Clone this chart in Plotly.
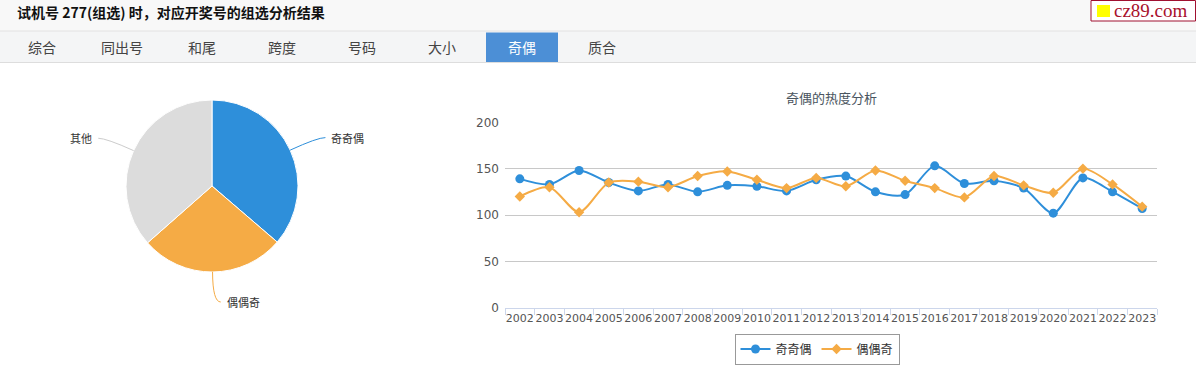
import math
import plotly.graph_objects as go

# ---------------- data ----------------
years = [str(y) for y in range(2002, 2024)]
series_a_name = "奇奇偶"
series_b_name = "偶偶奇"
series_a = [139, 133, 148, 135, 126, 133, 125, 132, 131, 126, 138, 142, 125, 122,
            153, 134, 137, 129, 102, 140, 125, 107]
series_b = [120, 130, 103, 135, 136, 130, 142, 147, 138, 129, 140, 131, 148, 137,
            129, 119, 142, 132, 124, 150, 133, 109]
pie_labels = ["奇奇偶", "偶偶奇", "其他"]
pie_values = [36.3, 27.2, 36.5]
tab_labels = ["综合", "同出号", "和尾", "跨度", "号码", "大小", "奇偶", "质合"]
active_tab = "奇偶"
header_title = "试机号 277(组选) 时，对应开奖号的组选分析结果"
chart_title = "奇偶的热度分析"

W, H = 1196, 377
BLUE = "#2e8fda"
ORANGE = "#f5ab45"
GRAY = "#dcdcdc"
CJK = "Noto Sans CJK SC, Noto Sans, sans-serif"


def px(x):
    return x / W


def py(y):
    return 1 - y / H


fig = go.Figure()

# ---------------- line chart ----------------
fig.add_trace(go.Scatter(
    x=years, y=series_a, name=series_a_name, mode="lines+markers",
    line=dict(color=BLUE, width=2, shape="spline", smoothing=0.8),
    marker=dict(symbol="circle", size=9, color=BLUE),
    xaxis="x", yaxis="y"))
fig.add_trace(go.Scatter(
    x=years, y=series_b, name=series_b_name, mode="lines+markers",
    line=dict(color=ORANGE, width=2, shape="spline", smoothing=0.8),
    marker=dict(symbol="diamond", size=8, color=ORANGE),
    xaxis="x", yaxis="y"))

# ---------------- pie ----------------
cx, cy, r = 212, 186, 86
fig.add_trace(go.Pie(
    labels=pie_labels, values=pie_values, sort=False, direction="clockwise",
    rotation=0, textinfo="none", hoverinfo="label+percent",
    marker=dict(colors=[BLUE, ORANGE, GRAY], line=dict(color="white", width=1)),
    domain=dict(x=[px(cx - r), px(cx + r)], y=[py(cy + r), py(cy - r)]),
    showlegend=False))

shapes = []
annotations = []

# pie labels with connectors computed from slice angles
total = sum(pie_values)
cum = 0.0
for lab, val, col in zip(pie_labels, pie_values, [BLUE, ORANGE, "#cccccc"]):
    mid = (cum + val / 2) / total * 2 * math.pi
    cum += val
    dx, dy = math.sin(mid), -math.cos(mid)
    ex, ey = cx + r * dx, cy + r * dy
    ax_, ay_ = cx + (r + 30) * dx, cy + (r + 30) * dy
    side = 1 if dx >= 0 else -1
    endx = ax_ + side * 8
    path = (f"M {px(ex)} {py(ey)} Q {px(ax_)} {py(ay_)} {px(endx)} {py(ay_)}")
    shapes.append(dict(type="path", path=path, xref="paper", yref="paper",
                       line=dict(color=col, width=1)))
    annotations.append(dict(
        x=px(endx + side * 4), y=py(ay_), xref="paper", yref="paper",
        text=lab, showarrow=False, xanchor="left" if side > 0 else "right",
        yanchor="middle", font=dict(family=CJK, size=11, color="#333333")))

# ---------------- header / tabs ----------------
shapes += [
    dict(type="rect", xref="paper", yref="paper", x0=0, x1=1, y0=py(31), y1=1,
         fillcolor="#f8f8f8", line=dict(width=0), layer="below"),
    dict(type="rect", xref="paper", yref="paper", x0=0, x1=1, y0=py(62), y1=py(31),
         fillcolor="#f4f5f6", line=dict(width=0), layer="below"),
    dict(type="line", xref="paper", yref="paper", x0=0, x1=1, y0=py(31), y1=py(31),
         line=dict(color="#e2e2e2", width=1)),
    dict(type="line", xref="paper", yref="paper", x0=0, x1=1, y0=py(62.5), y1=py(62.5),
         line=dict(color="#dddddd", width=1)),
]
annotations.append(dict(
    x=px(15), y=py(12), xref="paper", yref="paper", text=f"<b>{header_title}</b>",
    showarrow=False, xanchor="left", yanchor="middle",
    font=dict(family=CJK, size=14, color="#111111")))

tab_w = 80
for i, t in enumerate(tab_labels):
    c = 42 + i * tab_w
    if t == active_tab:
        shapes.append(dict(type="rect", xref="paper", yref="paper",
                           x0=px(c - 36), x1=px(c + 36), y0=py(62.5), y1=py(32.5),
                           fillcolor="#4c8fd6", line=dict(width=0), layer="below"))
        color = "white"
    else:
        color = "#444444"
    annotations.append(dict(
        x=px(c), y=py(47), xref="paper", yref="paper", text=t, showarrow=False,
        xanchor="center", yanchor="middle", font=dict(family=CJK, size=14, color=color)))

# logo
shapes += [
    dict(type="rect", xref="paper", yref="paper", x0=px(1091), x1=px(1195.5),
         y0=py(21), y1=py(0.5), fillcolor="white", line=dict(color="#a01030", width=1)),
    dict(type="rect", xref="paper", yref="paper", x0=px(1097), x1=px(1110),
         y0=py(17), y1=py(5), fillcolor="#ffff00", line=dict(width=0)),
]
annotations.append(dict(
    x=px(1112), y=py(11), xref="paper", yref="paper", text="cz89.com", showarrow=False,
    xanchor="left", yanchor="middle",
    font=dict(family="Liberation Serif, DejaVu Serif, serif", size=19, color="#a8102c")))

# chart title
annotations.append(dict(
    x=px(831), y=py(97), xref="paper", yref="paper", text=chart_title, showarrow=False,
    xanchor="center", yanchor="middle", font=dict(family=CJK, size=13, color="#4a5560")))

fig.update_layout(
    width=W, height=H, margin=dict(l=0, r=0, t=0, b=0, pad=0, autoexpand=False),
    paper_bgcolor="white", plot_bgcolor="white",
    shapes=shapes, annotations=annotations,
    xaxis=dict(domain=[px(505), px(1157)], type="category", range=[-0.5, 21.5],
               anchor="y", showgrid=False, showline=True, linecolor="#ccd6eb",
               ticks="outside", tickson="boundaries", ticklen=6, tickcolor="#ccd6eb",
               tickangle=0, automargin=False,
               tickfont=dict(family="DejaVu Sans", size=11, color="#555555"),
               fixedrange=True),
    yaxis=dict(domain=[py(307.7), py(122.3)], range=[0, 200], tickvals=[0, 50, 100, 150, 200],
               anchor="x", showgrid=True, gridcolor="#c8c8c8", gridwidth=1,
               zeroline=False, showline=False, ticks="", automargin=False,
               ticklabelstandoff=5,
               tickfont=dict(family="DejaVu Sans", size=12, color="#555555"),
               fixedrange=True),
    legend=dict(orientation="h", x=px(817), xanchor="center", y=py(349), yanchor="middle",
                bordercolor="#999999", borderwidth=1, bgcolor="white",
                font=dict(family=CJK, size=12, color="#333333")),
    hovermode="x",
)

fig.write_html(
    "out.html",
    config={"displayModeBar": False},
    post_script="document.body.style.margin='0';document.body.style.overflow='hidden';",
)
